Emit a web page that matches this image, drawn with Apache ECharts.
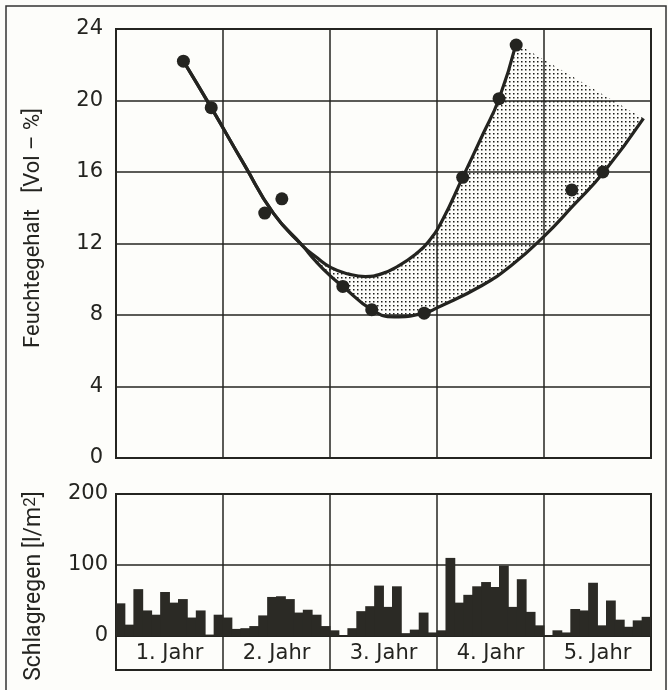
<!DOCTYPE html>
<html>
<head>
<meta charset="utf-8">
<script src="https://cdn.jsdelivr.net/npm/echarts@6/dist/echarts.min.js"></script>
<style>
html,body{margin:0;padding:0;background:#fdfdfa;}
#chart{width:668px;height:690px;}
</style>
</head>
<body>
<div id="chart"></div>
<script>
// ---- data ----
const years = ['1. Jahr', '2. Jahr', '3. Jahr', '4. Jahr', '5. Jahr'];
const monthNames = ['Jan','Feb','Mär','Apr','Mai','Jun','Jul','Aug','Sep','Okt','Nov','Dez'];
// Monthly driving rain [l/m²]
const rainYear1 = [46, 16, 66, 36, 30, 62, 47, 52, 26, 36, 2, 30];
const rainYear2 = [26, 10, 11, 14, 29, 55, 56, 52, 33, 37, 30, 14];
const rainYear3 = [8, 1, 11, 35, 42, 71, 41, 70, 4, 9, 33, 5];
const rainYear4 = [8, 110, 47, 58, 70, 76, 69, 99, 41, 80, 34, 15];
const rainYear5 = [1, 8, 5, 38, 36, 75, 15, 50, 23, 13, 22, 27];
// Measured moisture content [years, Vol-%]
const measured = [
  [0.63, 22.2], [0.89, 19.6], [1.39, 13.7], [1.55, 14.5],
  [2.12, 9.6], [2.39, 8.3], [2.88, 8.1], [3.24, 15.7],
  [3.58, 20.1], [3.74, 23.1], [4.26, 15.0], [4.55, 16.0]
];
// Upper envelope curve
const upperCurve = [
  [0.63, 22.2], [0.89, 19.6], [1.2, 16.4], [1.47, 13.7], [1.74, 11.9],
  [1.88, 11.2], [2.01, 10.65], [2.17, 10.3], [2.33, 10.15], [2.48, 10.3],
  [2.64, 10.75], [2.8, 11.4], [2.92, 12.1], [3.05, 13.3], [3.24, 15.7],
  [3.42, 18.0], [3.58, 20.1], [3.74, 23.2]
];
// Lower envelope curve
const lowerCurve = [
  [0.63, 22.2], [0.89, 19.6], [1.2, 16.4], [1.47, 13.7], [1.74, 11.9],
  [1.86, 11.05], [2.0, 10.2], [2.12, 9.6], [2.39, 8.3], [2.6, 7.9],
  [2.88, 8.1], [3.0, 8.4], [3.42, 9.65], [3.7, 10.8], [4.0, 12.4],
  [4.27, 14.1], [4.56, 16.0], [4.93, 19.0]
];

// ---- derived ----
const rain = [].concat(rainYear1, rainYear2, rainYear3, rainYear4, rainYear5);
const categories = [];
years.forEach(y => monthNames.forEach(m => categories.push(m + ' ' + y)));
const bandStart = 1.74;
const stipple = upperCurve.filter(p => p[0] >= bandStart)
  .concat(lowerCurve.filter(p => p[0] >= bandStart).slice().reverse());

// dot pattern
const pc = document.createElement('canvas');
pc.width = 4; pc.height = 4;
const pctx = pc.getContext('2d');
pctx.fillStyle = '#1e1e1a';
pctx.fillRect(1, 1, 1.5, 1.5);

const ink = '#242420';
const gridLine = {color: ink, width: 1.5};
const tickFont = {fontSize: 21, fontFamily: 'DejaVu Sans', color: ink};

const chart = echarts.init(document.getElementById('chart'), null, {renderer: 'canvas'});
chart.setOption({
  backgroundColor: '#fdfdfa',
  animation: false,
  grid: [
    {left: 116, top: 29, width: 535, height: 429, show: true, borderColor: ink, borderWidth: 2},
    {left: 116, top: 494, width: 535, height: 142, show: true, borderColor: ink, borderWidth: 2},
    {left: 116, top: 636, width: 535, height: 34, show: true, borderColor: ink, borderWidth: 2}
  ],
  xAxis: [
    {gridIndex: 0, type: 'value', min: 0, max: 5, interval: 1,
     axisLabel: {show: false}, axisTick: {show: false}, axisLine: {show: false},
     splitLine: {show: true, lineStyle: gridLine}},
    {gridIndex: 1, type: 'category', data: categories, boundaryGap: true,
     axisLabel: {show: false}, axisTick: {show: false}, axisLine: {show: false},
     splitLine: {show: true, interval: (i) => i % 12 === 0, lineStyle: gridLine}},
    {gridIndex: 2, type: 'category', data: years, boundaryGap: true,
     axisLabel: Object.assign({inside: true, margin: 6, interval: 0}, tickFont),
     axisTick: {show: false}, axisLine: {show: false},
     splitLine: {show: true, interval: 0, lineStyle: gridLine}}
  ],
  yAxis: [
    {gridIndex: 0, type: 'value', min: 0, max: 24, interval: 4,
     axisLabel: Object.assign({margin: 13}, tickFont),
     axisTick: {show: false}, axisLine: {show: false},
     splitLine: {show: true, lineStyle: gridLine}},
    {gridIndex: 1, type: 'value', min: 0, max: 200, interval: 100,
     axisLabel: Object.assign({margin: 8}, tickFont),
     axisTick: {show: false}, axisLine: {show: false},
     splitLine: {show: true, lineStyle: gridLine}},
    {gridIndex: 2, type: 'value', show: false, min: 0, max: 1}
  ],
  graphic: [
    {type: 'rect', silent: true, z: -10,
     shape: {x: 6, y: 6, width: 660, height: 700},
     style: {fill: 'none', stroke: '#333', lineWidth: 1.5}},
    {type: 'text', silent: true, x: 33, y: 228, rotation: Math.PI / 2,
     style: {text: 'Feuchtegehalt   [Vol – %]', fontSize: 22, fontFamily: 'Roboto',
             fill: ink, align: 'center', verticalAlign: 'middle'}},
    {type: 'text', silent: true, x: 34, y: 586, rotation: Math.PI / 2,
     style: {text: '{a|Schlagregen [l/m}{s|2}{a|]}', fill: ink, align: 'center', verticalAlign: 'middle',
             rich: {a: {fontSize: 23, fontFamily: 'Roboto', fill: ink},
                    s: {fontSize: 17, fontFamily: 'Roboto', fill: ink, verticalAlign: 'top'}}}}
  ],
  series: [
    {type: 'custom', xAxisIndex: 0, yAxisIndex: 0, z: 1, clip: true,
     data: [[0, 0]],
     renderItem: (params, api) => ({
       type: 'polygon',
       shape: {points: stipple.map(p => api.coord(p))},
       style: {fill: {image: pc, repeat: 'repeat'}, stroke: null}
     })},
    {type: 'line', name: 'upper', xAxisIndex: 0, yAxisIndex: 0, data: upperCurve,
     smooth: 0.5, showSymbol: false, symbol: 'none', z: 3,
     lineStyle: {color: ink, width: 3.2}},
    {type: 'line', name: 'lower', xAxisIndex: 0, yAxisIndex: 0, data: lowerCurve,
     smooth: 0.5, showSymbol: false, symbol: 'none', z: 3,
     lineStyle: {color: ink, width: 3.2}},
    {type: 'scatter', xAxisIndex: 0, yAxisIndex: 0, data: measured, symbolSize: 13, z: 5,
     itemStyle: {color: ink, opacity: 1}},
    {type: 'bar', xAxisIndex: 1, yAxisIndex: 1, data: rain, barWidth: 9.8, z: 2,
     itemStyle: {color: '#2b2a25', borderWidth: 0}}
  ]
});
</script>
</body>
</html>
